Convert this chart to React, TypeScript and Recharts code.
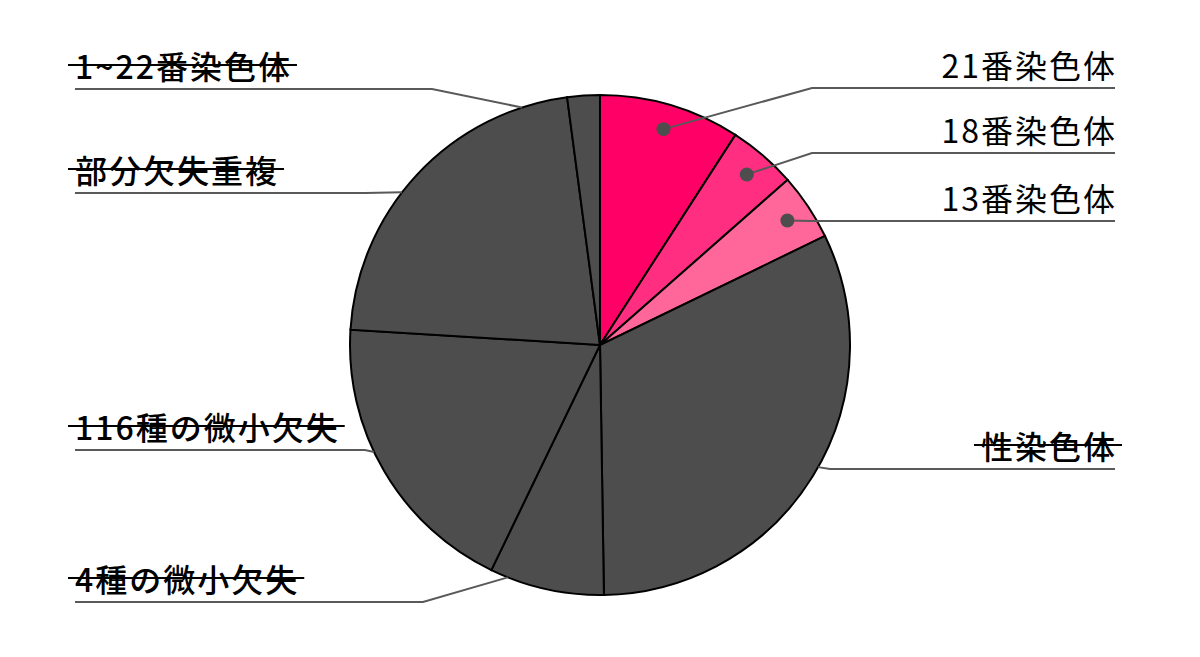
import React, { useLayoutEffect, useRef, useState } from 'react';
import { PieChart, Pie, Cell } from 'recharts';

// slices clockwise from 12 o'clock
const names = ['21番染色体', '18番染色体', '13番染色体', '性染色体', '4種の微小欠失', '116種の微小欠失', '部分欠失重複', '1~22番染色体'];
const shares = [9.1, 4.4, 4.3, 31.9, 7.4, 18.8, 21.9, 2.1];
const highlighted = [true, true, true, false, false, false, false, false];

const COLORS = ['#FF0066', '#FF2E80', '#FF6699', '#4D4D4D', '#4D4D4D', '#4D4D4D', '#4D4D4D', '#4D4D4D'];

// label layout (where each caption sits and where its leader bends)
const labelSide = ['right', 'right', 'right', 'right', 'left', 'left', 'left', 'left'];
const lineY = [88, 153, 221, 469, 602, 450, 193, 89];
const elbowX = [812, 812, 812, 830, 423, 365, 365, 432];

const LEFT_X = 75;
const RIGHT_X = 1115;
const FONT_SIZE = 32;
const SPACING = 2;
const FONT = "'Noto Sans CJK JP', 'Noto Sans', sans-serif";
const RADIAN = Math.PI / 180;

const data = names.map((name, i) => ({ name, value: shares[i] }));

const Caption = ({ x, y, anchor, text, strike }: any) => {
    const ref = useRef<SVGTextElement>(null);
    const [w, setW] = useState(0);
    useLayoutEffect(() => {
        if (ref.current) setW(ref.current.getComputedTextLength() - SPACING);
    }, [text]);
    // trailing letter-spacing would push right-aligned text inwards
    const tx = anchor === 'end' ? x + SPACING : x;
    const start = anchor === 'end' ? x - w : x;
    return (
        <g>
            <text ref={ref} x={tx} y={y} textAnchor={anchor} fill="#000" fontSize={FONT_SIZE} letterSpacing={SPACING}
                fontFamily={FONT} fontWeight={strike ? 500 : 400}>
                {text}
            </text>
            {strike && w > 0 && (
                <line x1={start - 7} x2={start + w + 7} y1={y - 14} y2={y - 14} stroke="#000" strokeWidth={2} />
            )}
        </g>
    );
};

const renderLabel = (props: any) => {
    const { cx, cy, midAngle, outerRadius, index, name } = props;
    const tr = outerRadius * 0.9;
    const tx = cx + tr * Math.cos(-midAngle * RADIAN);
    const ty = cy + tr * Math.sin(-midAngle * RADIAN);
    const side = labelSide[index];
    const y = lineY[index];
    const ex = elbowX[index];
    const farX = side === 'right' ? RIGHT_X : LEFT_X;

    let endX = tx;
    let endY = ty;
    if (!highlighted[index]) {
        // stop the leader where it meets the rim
        const dx = tx - ex, dy = ty - y;
        const fx = ex - cx, fy = y - cy;
        const a = dx * dx + dy * dy;
        const b = 2 * (fx * dx + fy * dy);
        const c = fx * fx + fy * fy - outerRadius * outerRadius;
        const disc = b * b - 4 * a * c;
        if (disc >= 0) {
            const t = (-b - Math.sqrt(disc)) / (2 * a);
            if (t >= 0 && t <= 1) {
                endX = ex + t * dx;
                endY = y + t * dy;
            }
        }
    }

    return (
        <g>
            <polyline points={`${farX},${y} ${ex},${y} ${endX},${endY}`} fill="none" stroke="#595959" strokeWidth={2} />
            {highlighted[index] && <circle cx={tx} cy={ty} r={7} fill="#4D4D4D" />}
            <Caption
                x={farX}
                y={y - 10}
                anchor={side === 'right' ? 'end' : 'start'}
                text={name}
                strike={!highlighted[index]}
            />
        </g>
    );
};

const App: React.FC = () => {
    return (
        <div style={{ position: 'absolute', left: 0, top: 0, width: 1200, height: 657, background: '#fff' }}>
            <PieChart width={1200} height={657} margin={{ top: 0, right: 0, bottom: 0, left: 0 }}>
                <Pie
                    data={data}
                    dataKey="value"
                    nameKey="name"
                    cx={600}
                    cy={345}
                    outerRadius={250}
                    startAngle={90}
                    endAngle={-270}
                    stroke="#000"
                    strokeWidth={2}
                    label={renderLabel}
                    labelLine={false}
                    isAnimationActive={false}
                >
                    {data.map((_, i) => (
                        <Cell key={`cell-${i}`} fill={COLORS[i]} stroke="#000" strokeWidth={2} />
                    ))}
                </Pie>
            </PieChart>
        </div>
    );
};

export default App;
